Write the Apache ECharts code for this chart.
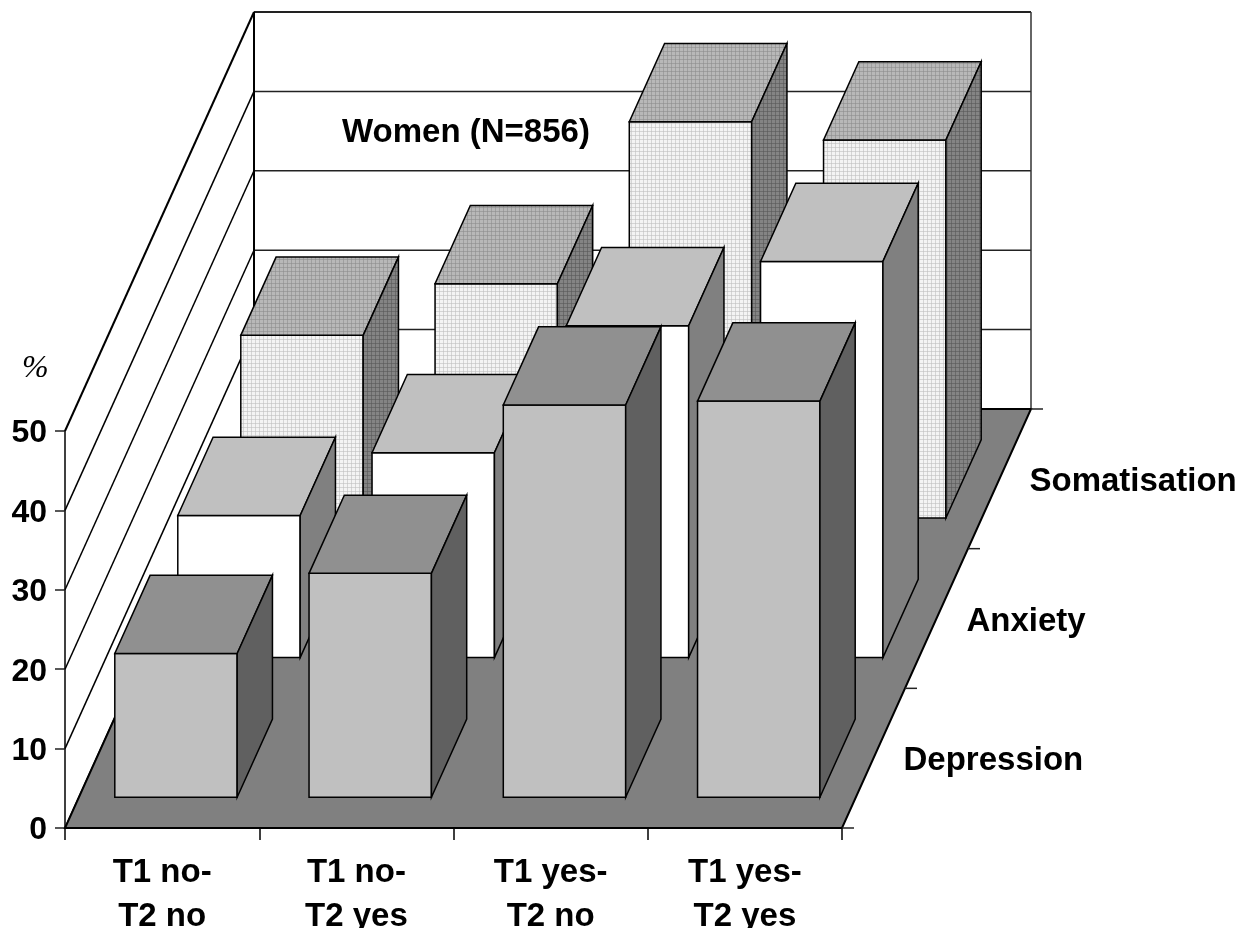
<!DOCTYPE html>
<html lang="en">
<head>
<meta charset="utf-8">
<title>Women (N=856)</title>
<script src="https://cdn.jsdelivr.net/npm/echarts@6/dist/echarts.min.js"></script>
<style>
html,body{margin:0;padding:0;background:#fff}
#container{width:1240px;height:928px}
</style>
</head>
<body>
<div id="container"></div>
<script>
var categories = ['T1 no-\nT2 no', 'T1 no-\nT2 yes', 'T1 yes-\nT2 no', 'T1 yes-\nT2 yes'];
var rows = ['Depression', 'Anxiety', 'Somatisation'];
var depression = [18.1, 28.2, 49.4, 49.9];
var anxiety = [17.9, 25.8, 41.8, 49.9];
var somatisation = [23.0, 29.5, 49.9, 47.6];
var yTicks = [0, 10, 20, 30, 40, 50];

// oblique projection of the depth axis, in pixels
var depthX = 189, depthY = -419;
var barShare = 0.63;   // bar width as a share of the category band
var rowShare = 0.56;   // bar depth as a share of the row

function dotted(bg, fg){
    var c = document.createElement('canvas');
    c.width = 4; c.height = 4;
    var g = c.getContext('2d');
    g.fillStyle = bg; g.fillRect(0, 0, 4, 4);
    g.fillStyle = fg;
    g.globalAlpha = 0.6;
    g.fillRect(3, 0, 1, 4); g.fillRect(0, 3, 4, 1);
    return {image: c, repeat: 'repeat'};
}

function poly(points, fill, lineWidth, stroke){
    return {
        type: 'polygon',
        shape: {points: points},
        style: {fill: fill, stroke: stroke || '#000', lineWidth: lineWidth || 1.5, lineJoin: 'miter'}
    };
}
function line(a, b, lineWidth, stroke){
    return {
        type: 'line',
        shape: {x1: a[0], y1: a[1], x2: b[0], y2: b[1]},
        style: {stroke: stroke || '#000', lineWidth: lineWidth || 1.5}
    };
}

// walls and floor
function renderWalls(params, api){
    if(params.dataIndex > 0) return {type: 'group', children: []};
    var band = api.size([1, 0])[0];
    var o = api.coord([0, 0]);
    var left = o[0] - band / 2, right = left + band * categories.length;
    var kids = [];
    yTicks.forEach(function(v){
        var y = api.coord([0, v])[1];
        kids.push(line([left, y], [left + depthX, y + depthY], v === 50 ? 2 : 1.5));
        if(v > 0) kids.push(line([left + depthX, y + depthY], [right + depthX, y + depthY], v === 50 ? 2 : 1.5, '#222'));
    });
    var top = api.coord([0, 50])[1] + depthY, base = o[1] + depthY;
    kids.push(line([left + depthX, top], [left + depthX, base], 2));
    kids.push(line([right + depthX, top], [right + depthX, base], 1.5, '#333'));
    kids.push(poly([[left, o[1]], [right, o[1]], [right + depthX, base], [left + depthX, base]], '#808080', 2));
    // ticks and labels of the depth axis
    for(var i = 0; i <= rows.length; i++){
        var t = i / rows.length;
        var x = right + depthX * t, y = o[1] + depthY * t;
        kids.push(line([x, y], [x + 12, y], 1.5, '#222'));
        if(i < rows.length){
            var m = (i + 0.5) / rows.length;
            kids.push({
                type: 'text',
                style: {
                    text: rows[i], x: right + depthX * m + 30, y: o[1] + depthY * m + 3,
                    font: 'bold 33px "Liberation Sans", Arial, sans-serif',
                    fill: '#000', align: 'left', verticalAlign: 'middle'
                }
            });
        }
    }
    return {type: 'group', children: kids};
}

// one row of boxes; faces: [front, top, side]
function boxRenderer(rowIndex, faces){
    return function(params, api){
        var cat = api.value(0), val = api.value(1);
        var band = api.size([1, 0])[0];
        var w = band * barShare;
        var o = api.coord([cat, 0]), t = api.coord([cat, val]);
        var rowDepth = 1 / rows.length;
        var start = (rowIndex + (1 - rowShare) / 2) * rowDepth;
        var bx = depthX * rowDepth * rowShare, by = depthY * rowDepth * rowShare;
        var x0 = o[0] - w / 2 + depthX * start, x1 = x0 + w;
        var yb = o[1] + depthY * start, yt = t[1] + depthY * start;
        return {
            type: 'group',
            children: [
                poly([[x0, yb], [x1, yb], [x1, yt], [x0, yt]], faces[0]),
                poly([[x0, yt], [x1, yt], [x1 + bx, yt + by], [x0 + bx, yt + by]], faces[1]),
                poly([[x1, yb], [x1 + bx, yb + by], [x1 + bx, yt + by], [x1, yt]], faces[2])
            ]
        };
    };
}

function rowData(arr){
    return arr.map(function(v, i){ return [i, v]; });
}

var textFont = {fontFamily: '"Liberation Sans", Arial, sans-serif', fontWeight: 'bold', fontSize: 33, color: '#000'};

var option = {
    animation: false,
    backgroundColor: '#fff',
    grid: {left: 65, right: 398, top: 431, bottom: 100, outerBoundsMode: 'none'},
    xAxis: {
        type: 'category',
        data: categories,
        axisLine: {lineStyle: {color: '#000', width: 2}},
        axisTick: {show: true, alignWithLabel: false, length: 12, lineStyle: {color: '#000', width: 1.5}},
        axisLabel: Object.assign({margin: 23, lineHeight: 44, interval: 0}, textFont),
        splitLine: {show: false}
    },
    yAxis: {
        type: 'value',
        min: 0,
        max: 50,
        interval: 10,
        axisLine: {show: true, lineStyle: {color: '#000', width: 1.5}},
        axisTick: {show: true, length: 10, lineStyle: {color: '#222', width: 1.5}},
        axisLabel: {
            margin: 18,
            formatter: '{n|{value}}',
            rich: {n: {fontFamily: '"Liberation Sans", Arial, sans-serif', fontWeight: 'bold', fontSize: 32, color: '#000', padding: [5, 0, 0, 0]}}
        },
        splitLine: {show: false}
    },
    graphic: [
        {type: 'text', left: 342, top: 116, z: 100, style: {text: 'Women (N=856)', font: 'bold 33px "Liberation Sans", Arial, sans-serif', fill: '#000'}},
        {type: 'text', left: 22, top: 353, z: 100, style: {text: '%', font: 'italic 32px "Liberation Serif", serif', fill: '#000'}}
    ],
    series: [
        {type: 'custom', name: 'walls', coordinateSystem: 'cartesian2d', data: rowData(depression), renderItem: renderWalls, silent: true, z: 1},
        {type: 'custom', name: rows[2], coordinateSystem: 'cartesian2d', data: rowData(somatisation), z: 2,
            renderItem: boxRenderer(2, [dotted('#f4f4f4', '#c0c0c0'), dotted('#b8b8b8', '#8e8e8e'), dotted('#848484', '#585858')])},
        {type: 'custom', name: rows[1], coordinateSystem: 'cartesian2d', data: rowData(anxiety), z: 3,
            renderItem: boxRenderer(1, ['#fff', '#c0c0c0', '#808080'])},
        {type: 'custom', name: rows[0], coordinateSystem: 'cartesian2d', data: rowData(depression), z: 4,
            renderItem: boxRenderer(0, ['#c0c0c0', '#909090', '#606060'])}
    ]
};
var myChart = echarts.init(document.getElementById('container'), null, {renderer: 'canvas'});
myChart.setOption(option);
</script>
</body>
</html>
